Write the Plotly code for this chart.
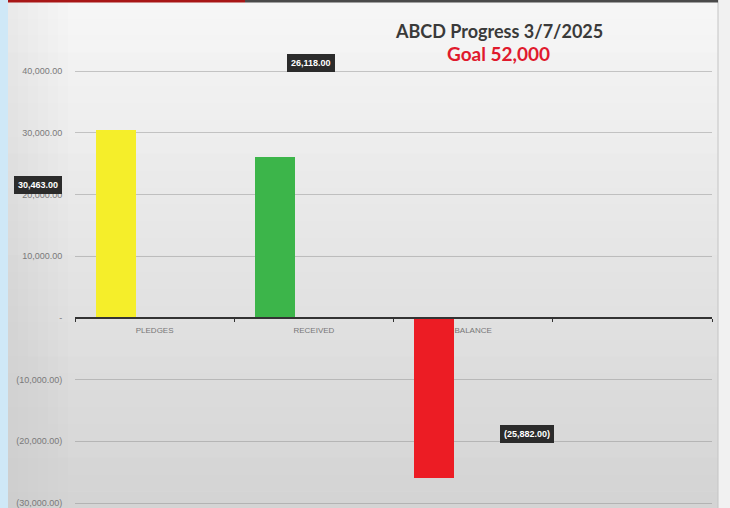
import plotly.graph_objects as go

# ---- data ----
categories = ["PLEDGES", "RECEIVED", "BALANCE", " "]
values = [30463, 26118, -25882, None]
bar_colors = ["#f5ee2a", "#3cb54a", "#ec1c24", "rgba(0,0,0,0)"]
tick_vals = [40000, 30000, 20000, 10000, 0, -10000, -20000, -30000]
title_text = "ABCD Progress 3/7/2025"
goal_text = "Goal 52,000"


def fmt(v):
    if v == 0:
        return "-"
    s = f"{abs(v):,.2f}"
    return f"({s})" if v < 0 else s


tick_text = [fmt(v) for v in tick_vals]

W, H = 730, 508
ML, MR, MT, MB = 75, 18, 40, 3
PW, PH = W - ML - MR, H - MT - MB
Y_LO, Y_HI = -30324, 45024


def px(x):
    return (x - ML) / PW


def py(y):
    return (H - MB - y) / PH


fig = go.Figure()
fig.add_trace(go.Bar(
    x=categories, y=values,
    marker=dict(color=bar_colors, line=dict(width=0)),
    width=0.25, offset=-0.37,
    hoverinfo="skip",
))

shapes = []
# background gradient panel
n = 30
top_c = (246, 246, 246)
bot_c = (212, 212, 212)
for i in range(n):
    t = i / (n - 1)
    c = tuple(int(round(top_c[k] + (bot_c[k] - top_c[k]) * t)) for k in range(3))
    y0 = 2 + (H - 2) * i / n
    y1 = 2 + (H - 2) * (i + 1) / n
    shapes.append(dict(type="rect", xref="paper", yref="paper",
                       x0=px(8), x1=px(718), y0=py(y1 + 0.5), y1=py(y0),
                       fillcolor=f"rgb{c}", line=dict(width=0), layer="below"))
# left-side darkening
for i in range(6):
    shapes.append(dict(type="rect", xref="paper", yref="paper",
                       x0=px(8), x1=px(8 + 60 * (i + 1) / 6), y0=py(H), y1=py(2),
                       fillcolor="rgba(150,150,150,0.025)", line=dict(width=0), layer="below"))
# left light-blue strip
shapes.append(dict(type="rect", xref="paper", yref="paper",
                   x0=px(0), x1=px(8), y0=py(H), y1=py(0),
                   fillcolor="#cfe8f7", line=dict(width=0), layer="below"))
# right outside area
shapes.append(dict(type="rect", xref="paper", yref="paper",
                   x0=px(718), x1=px(W), y0=py(H), y1=py(0),
                   fillcolor="#f1f1f1", line=dict(width=0), layer="below"))
shapes.append(dict(type="line", xref="paper", yref="paper",
                   x0=px(718), x1=px(718), y0=py(H), y1=py(0),
                   line=dict(color="#c4c4c4", width=1), layer="below"))
# top lines
shapes.append(dict(type="rect", xref="paper", yref="paper",
                   x0=px(8), x1=px(245), y0=py(2.5), y1=py(0),
                   fillcolor="#a81616", line=dict(width=0), layer="below"))
shapes.append(dict(type="rect", xref="paper", yref="paper",
                   x0=px(245), x1=px(718), y0=py(2.5), y1=py(0),
                   fillcolor="#4a4a4a", line=dict(width=0), layer="below"))

annotations = [
    dict(text=f"<b>{title_text}</b>", xref="paper", yref="paper",
         x=px(499), y=py(31), xanchor="center", yanchor="middle", showarrow=False,
         font=dict(family="Lato", size=18, color="#3a3a3a")),
    dict(text=f"<b>{goal_text}</b>", xref="paper", yref="paper",
         x=px(498), y=py(53), xanchor="center", yanchor="middle", showarrow=False,
         font=dict(family="Lato", size=19, color="#e0192d")),
]
label_pos = [(38, 185), (311, 63), (527, 434)]
for v, (lx, ly) in zip(values[:3], label_pos):
    annotations.append(dict(
        text=f"<b>{fmt(v)}</b>", xref="paper", yref="paper",
        x=px(lx), y=py(ly), xanchor="center", yanchor="middle", showarrow=False,
        font=dict(family="Liberation Sans", size=9, color="#ffffff"),
        bgcolor="#2b2b2b", bordercolor="#2b2b2b", borderpad=3,
    ))

zero_frac = (0 - Y_LO) / (Y_HI - Y_LO)

fig.update_layout(
    width=W, height=H,
    margin=dict(l=ML, r=MR, t=MT, b=MB, autoexpand=False),
    paper_bgcolor="#e6e6e6",
    plot_bgcolor="rgba(0,0,0,0)",
    showlegend=False,
    shapes=shapes,
    annotations=annotations,
    bargap=0,
    xaxis=dict(
        type="category", range=[-0.5, 3.5],
        anchor="free", position=zero_frac,
        showline=True, linecolor="#333333", linewidth=1.5,
        ticks="outside", ticklen=3, tickcolor="#333333", tickwidth=1,
        tickson="boundaries", showgrid=False, ticklabelstandoff=5,
        tickfont=dict(family="Liberation Sans", size=8, color="#777777"),
        fixedrange=True, automargin=False,
    ),
    yaxis=dict(
        range=[Y_LO, Y_HI],
        tickvals=tick_vals, ticktext=tick_text,
        showgrid=True, gridcolor="rgba(140,140,140,0.45)", gridwidth=1,
        zeroline=False, showline=False,
        ticks="outside", ticklen=10, tickcolor="rgba(0,0,0,0)",
        tickfont=dict(family="Liberation Sans", size=9, color="#7a7a7a"),
        ticklabeloverflow="allow",
        fixedrange=True, automargin=False,
    ),
)

fig.write_html(
    "out.html",
    config={"displayModeBar": False},
    post_script="document.body.style.margin='0';document.body.style.overflow='hidden';",
)
